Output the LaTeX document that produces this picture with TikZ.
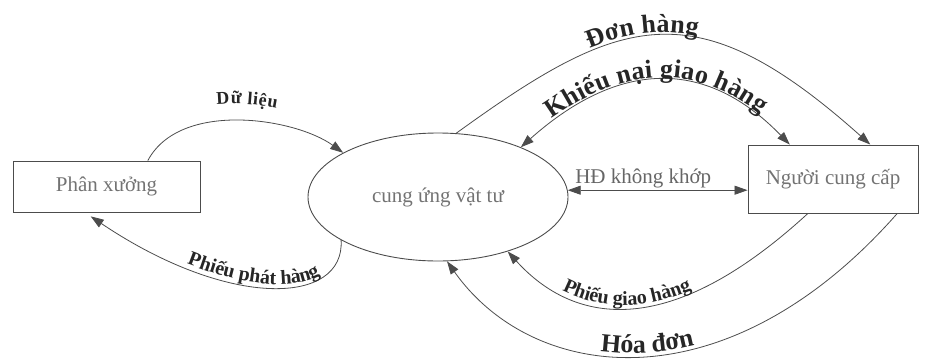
\documentclass[tikz,border=0pt]{standalone}
\usepackage{fontspec}
\setmainfont{Liberation Serif}
\usetikzlibrary{shapes.geometric,arrows.meta,decorations.text,calc}
\newcommand\lblL{\fontsize{26}{28}\selectfont\bfseries}
\newcommand\lblM{\fontsize{20}{22}\selectfont\bfseries}
\newcommand\lblS{\fontsize{18}{20}\selectfont\bfseries}
\begin{document}
\begin{tikzpicture}[x=1pt,y=-1pt,
  entbox/.style={draw=black!70, line width=0.9pt, rectangle, inner sep=0pt,
    text=black!55, font=\fontsize{21}{24}\selectfont},
  proc/.style={draw=black!70, line width=0.9pt, ellipse, inner sep=0pt,
    minimum width=260pt, minimum height=128pt, text=black!55,
    font=\fontsize{21}{24}\selectfont},
  flow/.style={draw=black!70, line width=0.8pt, -{Triangle[length=13pt,width=9pt]}},
  flowtwo/.style={draw=black!70, line width=0.8pt,
    {Triangle[length=13pt,width=9pt]}-{Triangle[length=13pt,width=9pt]}},
  lbl/.style={decorate, decoration={text along path, text color=black!85,
    raise=#1, text align=center}},
  hd/.style={text=black!60, font=\fontsize{21}{24}\selectfont, inner sep=1pt}]
\useasboundingbox (0,0) rectangle (928,362);

\node[entbox, minimum width=187pt, minimum height=51pt] (px) at (106.5,186.5) {Phân xưởng};
\node[proc] (cu) at (438,197) {cung ứng vật tư};
\node[entbox, minimum width=170pt, minimum height=68pt] (ncc) at (833,179) {Người cung cấp};

\coordinate (pxA) at ($(px.north west)!0.72!(px.north east)$);
\coordinate (pxB) at ($(px.south west)!0.385!(px.south east)$);
\coordinate (nA) at ($(ncc.north west)!0.247!(ncc.north east)$);
\coordinate (nB) at ($(ncc.north west)!0.718!(ncc.north east)$);
\coordinate (nC) at ($(ncc.south west)!0.353!(ncc.south east)$);
\coordinate (nD) at ($(ncc.south west)!0.876!(ncc.south east)$);

% Du lieu
\draw[flow] (pxA) .. controls (180,100) and (295,118) .. (cu.155);
\path[lbl=17pt, decoration={text align={align=center, left indent=8pt}, text={|\lblS|Dữ liệu}}]
  (pxA) .. controls (180,100) and (295,118) .. (cu.155);

% Phieu phat hang
\draw[flow, shorten >=7pt] (cu.204) .. controls (345,305) and (230,310) .. (pxB);
\path[lbl=3pt, decoration={text align={align=center, left indent=70pt}, text={|\lblM|Phiếu phát hàng}}]
  (pxB) .. controls (230,310) and (345,305) .. (cu.204);

% Don hang
\draw[flow] (cu.74) .. controls (621,14) and (695,-12) .. (nB);
\path[lbl=3pt, decoration={text align={align=center, right indent=48pt}, text={|\lblL|Đơn hàng}}]
  (cu.74) .. controls (621,14) and (695,-12) .. (nB);

% Khieu nai giao hang
\draw[flowtwo] (cu.31) .. controls (612,66) and (700,52) .. (nA);
\path[lbl=3pt, decoration={text={|\lblL|Khiếu nại giao hàng}}]
  (cu.31) .. controls (612,66) and (700,52) .. (nA);

% HD khong khop
\draw[flowtwo] (cu.3) -- (cu.3 -| ncc.west) node[pos=0.42, above=1pt, hd] {HĐ không khớp};

% Phieu giao hang
\draw[flow] (nC) .. controls (658,351) and (566,316) .. (cu.322);
\path[lbl=3pt, decoration={text align={align=center, right indent=72pt}, text={|\lblM|Phiếu giao hàng}}]
  (cu.322) .. controls (566,316) and (658,351) .. (nC);

% Hoa don
\draw[flow] (nD) .. controls (726,408) and (533,383) .. (cu.278);
\path[lbl=3pt, decoration={text align={align=center, right indent=62pt}, text={|\lblL|Hóa đơn}}]
  (cu.278) .. controls (533,383) and (726,408) .. (nD);
\end{tikzpicture}
\end{document}
